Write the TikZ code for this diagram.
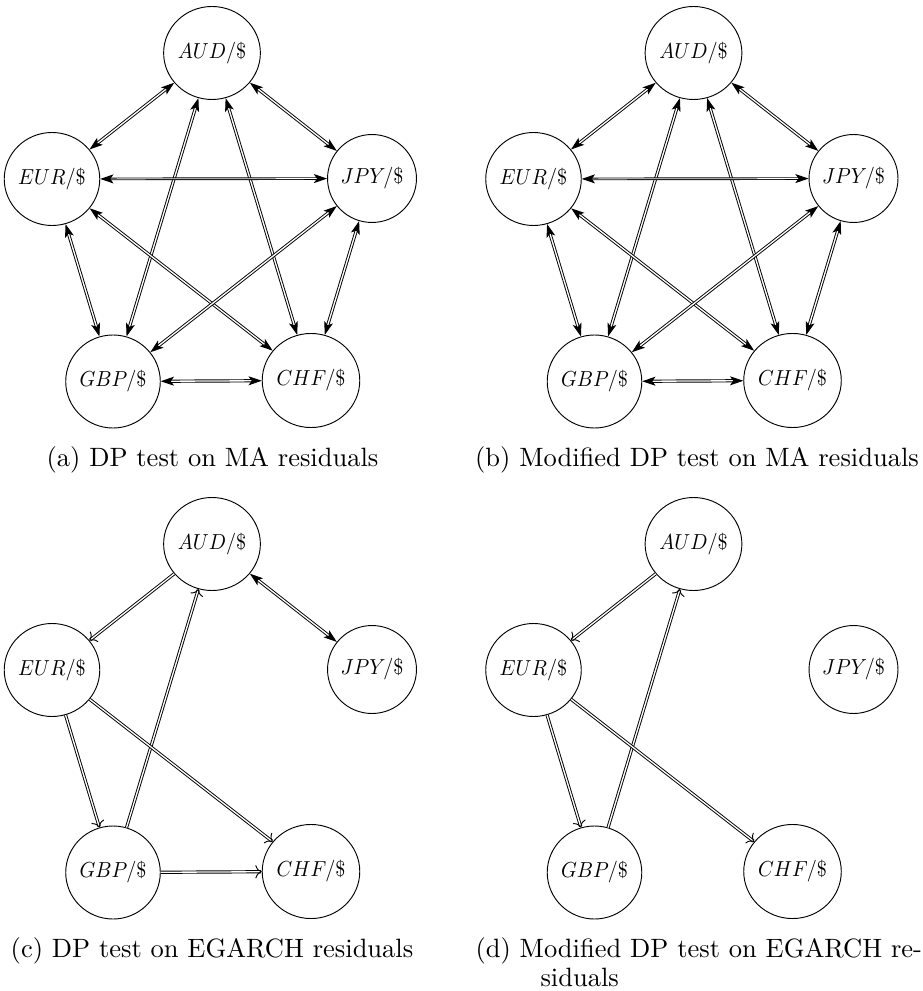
\documentclass[tikz,border=0pt]{standalone}
\usetikzlibrary{arrows.meta,shapes.geometric}
\newcommand{\ct}[1]{\scalebox{0.76}[0.82]{$#1$}}
\tikzset{
  cur/.style={draw, ellipse, inner sep=0pt, line width=0.35pt},
  bi/.style={double, line width=0.35pt, double distance=0.5pt,
    {Stealth[length=5pt,width=3.4pt,inset=1.2pt]}-{Stealth[length=5pt,width=3.4pt,inset=1.2pt]}},
  uni/.style={double, line width=0.35pt, double distance=0.5pt, -{To[length=2.4pt,width=5pt]}},
  capt/.style={anchor=base, inner sep=0pt, font=\normalsize}
}
\newcommand{\fxnodes}[3]{%
  \node[cur, minimum width=32.8pt, minimum height=35.1pt] (#1aud) at (212+#2, 53+#3) {\ct{AUD/\$}};
  \node[cur, minimum width=32.5pt, minimum height=35.1pt] (#1eur) at (52+#2, 179+#3) {\ct{EUR/\$}};
  \node[cur, minimum width=30.9pt, minimum height=33.2pt] (#1jpy) at (372+#2, 178.5+#3) {\ct{JPY/\$}};
  \node[cur, minimum width=32.5pt, minimum height=35.1pt] (#1gbp) at (113+#2, 381.5+#3) {\ct{GBP/\$}};
  \node[cur, minimum width=32.8pt, minimum height=35.5pt] (#1chf) at (311+#2, 380.5+#3) {\ct{CHF/\$}};
}
\newcommand{\alledges}[1]{%
  \draw[bi] (#1aud) -- (#1eur);
  \draw[bi] (#1aud) -- (#1jpy);
  \draw[bi] (#1aud) -- (#1gbp);
  \draw[bi] (#1aud) -- (#1chf);
  \draw[bi, double distance=0.3pt] (#1eur) -- (#1jpy);
  \draw[bi] (#1eur) -- (#1gbp);
  \draw[bi] (#1eur) -- (#1chf);
  \draw[bi] (#1jpy) -- (#1gbp);
  \draw[bi] (#1jpy) -- (#1chf);
  \draw[bi] (#1gbp) -- (#1chf);
}
\begin{document}
\begin{tikzpicture}[x=0.3774pt, y=-0.3774pt]
\useasboundingbox (0,0) rectangle (922,991);
% (a)
\fxnodes{a}{0}{0}
\alledges{a}
\node[capt] (capa) at (212.5,466) {(a) DP test on MA residuals};
% (b)
\fxnodes{b}{481.5}{0}
\alledges{b}
\node[capt] (capb) at (697,466) {(b) Modified DP test on MA residuals};
% (c)
\fxnodes{c}{0}{491}
\draw[uni] (caud) -- (ceur);
\draw[bi] (caud) -- (cjpy);
\draw[uni] (cgbp) -- (caud);
\draw[uni] (ceur) -- (cgbp);
\draw[uni] (ceur) -- (cchf);
\draw[uni] (cgbp) -- (cchf);
\node[capt] (capc) at (212,957) {(c) DP test on EGARCH residuals};
% (d)
\fxnodes{d}{481.5}{491}
\draw[uni] (daud) -- (deur);
\draw[uni] (dgbp) -- (daud);
\draw[uni] (deur) -- (dgbp);
\draw[uni] (deur) -- (dchf);
\node[capt, anchor=base west] (capd1) at (475,957) {(d) Modified DP test on EGARCH re-};
\node[capt, anchor=base west] (capd2) at (540,986) {siduals};
\end{tikzpicture}
\end{document}
